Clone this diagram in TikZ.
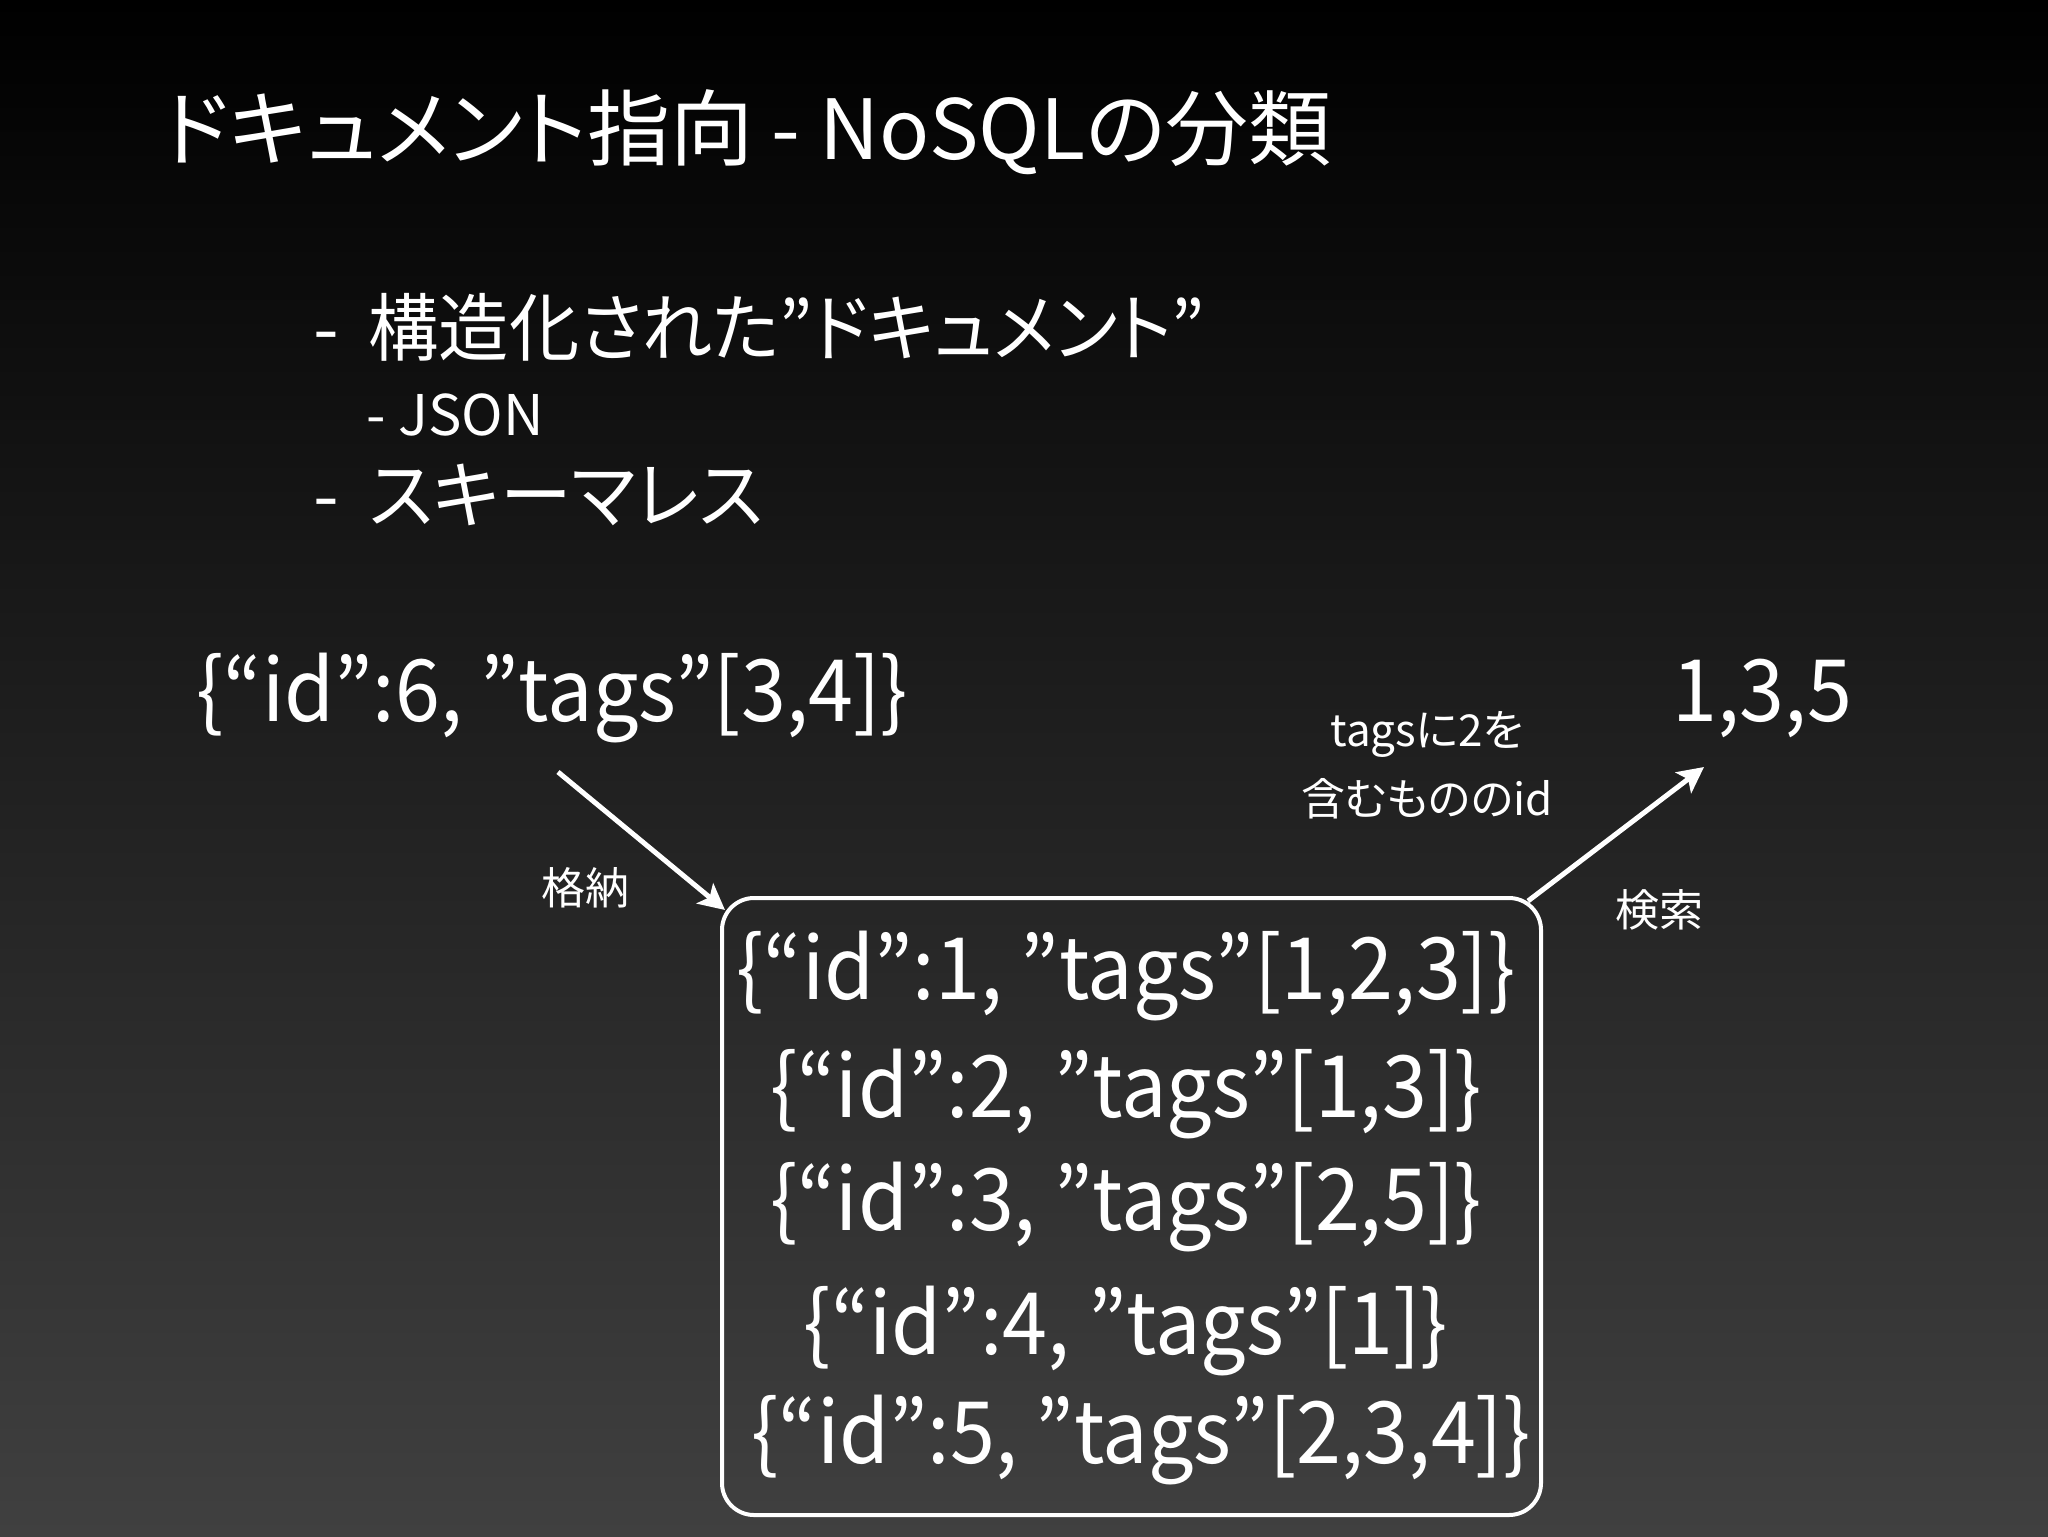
\documentclass[tikz,border=0pt]{standalone}
\usepackage{fontspec}
\usepackage{graphicx}
\setmainfont{Noto Sans CJK JP}[RawFeature=+palt]
\usetikzlibrary{arrows.meta}
\definecolor{bgbot}{RGB}{64,64,64}
\newcommand{\nrw}[1]{\scalebox{0.94}[1]{#1}}
\tikzset{
  txt/.style={text=white, inner sep=0pt, anchor=base west},
  ctxt/.style={text=white, inner sep=0pt, anchor=base},
  big/.style={font=\fontsize{43}{52}\selectfont},
  lbl/.style={text=white, inner sep=0pt, font=\fontsize{22}{26}\selectfont},
  arr/.style={draw=white, line width=2.5pt, -{Stealth[length=13pt,width=13pt,inset=3pt]}},
}
\begin{document}
\begin{tikzpicture}[x=0.5pt,y=-0.5pt]
\shade[top color=black, bottom color=bgbot] (0,0) rectangle (2048,1536);
\useasboundingbox (0,0) rectangle (2048,1536);
\node[txt, font=\fontsize{41.5}{50}\selectfont] (title) at (163,159) {ドキュメント指向 - NoSQLの分類};
\node[txt, font=\fontsize{37}{44}\selectfont] (b1) at (313,355) {-\hspace{0.4em}\scalebox{0.95}[1]{構造化された”ドキュメント”}};
\node[txt, font=\fontsize{28}{34}\selectfont] (b2) at (366,435) {- JSON};
\node[txt, font=\fontsize{37}{44}\selectfont] (b3) at (313,522) {-\hspace{0.4em}\scalebox{0.97}[1]{スキーマレス}};
\node[txt, big] (new) at (196,721) {\nrw{\{“id”:6, ”tags”[3,4]\}}};
\node[txt, big] (res) at (1672,721) {\nrw{1,3,5}};
\draw[white, line width=2pt, rounded corners=16pt] (722,898) rectangle (1541,1515);
\node[ctxt, big] (d1) at (1126,999) {\nrw{\{“id”:1, ”tags”[1,2,3]\}}};
\node[ctxt, big] (d2) at (1126,1117) {\nrw{\{“id”:2, ”tags”[1,3]\}}};
\node[ctxt, big] (d3) at (1126,1230) {\nrw{\{“id”:3, ”tags”[2,5]\}}};
\node[ctxt, big] (d4) at (1126,1354) {\nrw{\{“id”:4, ”tags”[1]\}}};
\node[ctxt, big] (d5) at (1141,1463) {\nrw{\{“id”:5, ”tags”[2,3,4]\}}};
\coordinate (a1s) at (558,772);
\coordinate (a1e) at (725,910);
\coordinate (a2s) at (1528,901);
\coordinate (a2e) at (1704,767);
\draw[arr] (a1s) -- (a1e);
\draw[arr] (a2s) -- (a2e);
\node[lbl] (l1) at (585,888) {格納};
\node[lbl] (l2) at (1659,910) {検索};
\node[lbl] (l3) at (1427,734) {tagsに2を};
\node[lbl] (l4) at (1427,799) {含むもののid};
\end{tikzpicture}
\end{document}
